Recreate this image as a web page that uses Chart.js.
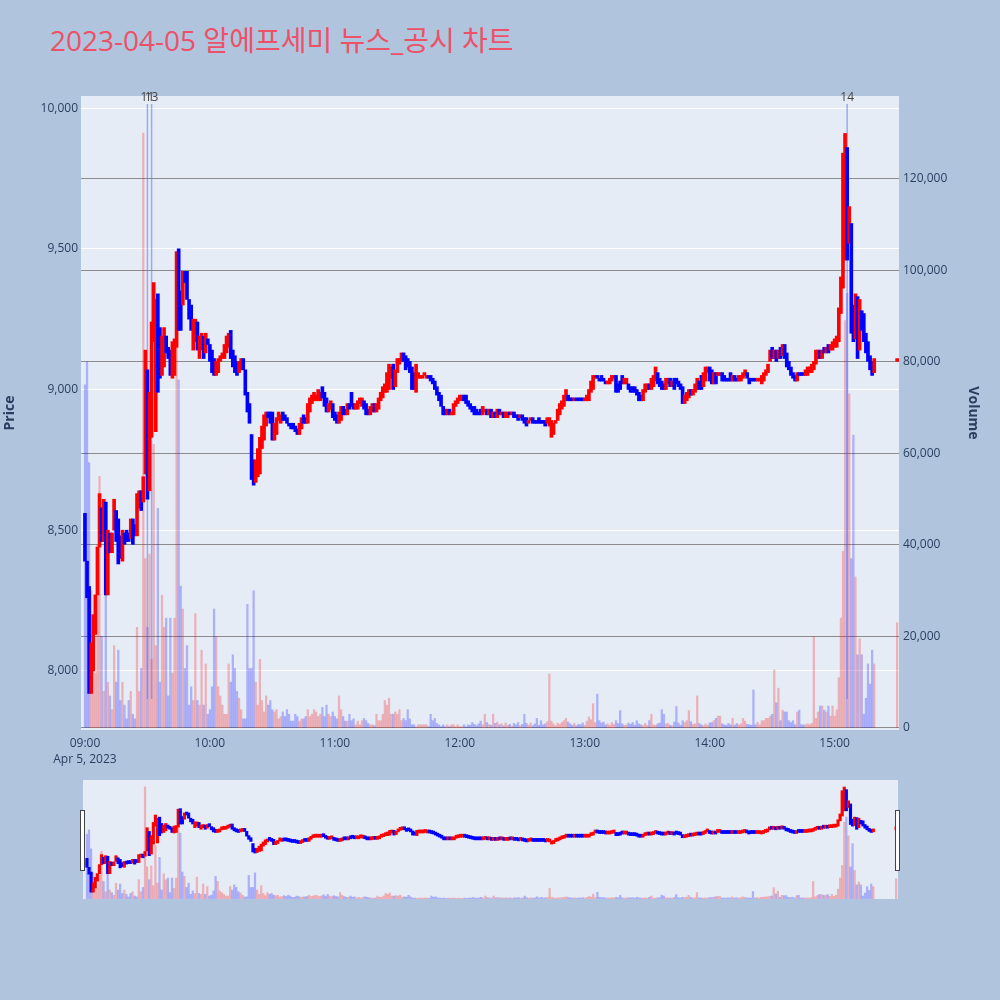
<!DOCTYPE html>
<html>
<head>
<meta charset="utf-8">
<script src="https://cdn.jsdelivr.net/npm/chart.js@4.4.0/dist/chart.umd.min.js"></script>
<style>
  body { margin: 0; background: #B0C4DE; }
  #wrap { position: relative; width: 1000px; height: 1000px; }
  #title { position: absolute; left: 50px; top: 26px; font: 28px/28px "Open Sans", "Noto Sans CJK KR", sans-serif; color: #EC5168; white-space: nowrap; }
  #main { position: absolute; left: 0; top: 0; }
  #slider { position: absolute; left: 0; top: 780px; }
</style>
</head>
<body>
<div id="wrap">
  <div id="title">2023-04-05 알에프세미 뉴스_공시 차트</div>
  <canvas id="main" width="1000" height="775"></canvas>
  <canvas id="slider" width="1000" height="120"></canvas>
</div>
<script>
// 1분봉: 09:00 부터 15:19 까지 (분 단위 순서)
const sessionStart = '09:00';
const dateLabel = 'Apr 5, 2023';
const tickTimes = ['09:00', '10:00', '11:00', '12:00', '13:00', '14:00', '15:00'];
const priceTicks = [8000, 8500, 9000, 9500, 10000];
const volumeTicks = [0, 20000, 40000, 60000, 80000, 100000, 120000];

const opens = [
  8560, 8390, 8300, 7920, 8000, 8130, 8270, 8440, 8580, 8460,
  8600, 8270, 8490, 8420, 8500, 8570, 8540, 8480, 8390, 8490,
  8500, 8490, 8470, 8540, 8520, 8480, 8580, 8640, 8600, 8700,
  9070, 8640, 8830, 9170, 8850, 9340, 9220, 9050, 9080, 9190,
  9150, 9140, 9040, 9050, 9150, 9500, 9350, 9300, 9420, 9420,
  9320, 9300, 9140, 9170, 9240, 9110, 9140, 9190, 9130, 9180,
  9160, 9140, 9110, 9050, 9060, 9100, 9110, 9110, 9130, 9150,
  9210, 9140, 9120, 9100, 9060, 9070, 9110, 9070, 8990, 8950,
  8840, 8750, 8670, 8690, 8700, 8790, 8820, 8870, 8920, 8920,
  8920, 8820, 8840, 8890, 8880, 8920, 8910, 8900, 8880, 8880,
  8880, 8870, 8860, 8840, 8860, 8910, 8900, 8880, 8920, 8950,
  8960, 8960, 8960, 8960, 9010, 8990, 8970, 8920, 8930, 8950,
  8920, 8910, 8880, 8890, 8940, 8930, 8910, 8950, 8990, 8950,
  8930, 8930, 8950, 8940, 8960, 8950, 8930, 8910, 8920, 8950,
  8920, 8930, 8960, 8970, 8990, 8990, 9000, 9040, 9090, 9010,
  9060, 9090, 9100, 9130, 9120, 9110, 9100, 9080, 9060, 8990,
  9040, 9040, 9040, 9050, 9040, 9050, 9050, 9040, 9030, 9010,
  8990, 8980, 8940, 8930, 8910, 8930, 8910, 8910, 8940, 8950,
  8960, 8960, 8980, 8980, 8960, 8950, 8940, 8940, 8930, 8920,
  8930, 8910, 8920, 8930, 8910, 8930, 8900, 8920, 8900, 8930,
  8910, 8920, 8900, 8900, 8920, 8910, 8920, 8910, 8910, 8900,
  8910, 8900, 8900, 8880, 8890, 8900, 8890, 8890, 8900, 8890,
  8890, 8890, 8880, 8870, 8830, 8840, 8880, 8890, 8910, 8930,
  8940, 8960, 8980, 8970, 8970, 8960, 8970, 8970, 8970, 8970,
  8960, 8960, 8960, 8990, 9000, 9040, 9050, 9040, 9050, 9040,
  9030, 9020, 9020, 9030, 9040, 9050, 9020, 9030, 9050, 9020,
  9020, 9020, 9010, 9010, 9010, 9000, 8990, 8980, 8960, 8990,
  9000, 9020, 9000, 9010, 9030, 9060, 9040, 9030, 9020, 9000,
  9020, 9040, 9010, 9040, 9040, 9030, 9020, 9010, 8950, 8960,
  8970, 9000, 8980, 8990, 9000, 9030, 9050, 9010, 9030, 9060,
  9080, 9070, 9020, 9060, 9050, 9050, 9060, 9050, 9040, 9040,
  9060, 9030, 9050, 9040, 9030, 9030, 9040, 9050, 9060, 9040,
  9040, 9040, 9040, 9030, 9030, 9020, 9030, 9050, 9060, 9100,
  9150, 9110, 9140, 9110, 9150, 9120, 9160, 9130, 9100, 9080,
  9060, 9050, 9030, 9060, 9060, 9060, 9050, 9050, 9060, 9060,
  9070, 9090, 9110, 9140, 9110, 9150, 9130, 9160, 9140, 9140,
  9150, 9150, 9170, 9270, 9360, 9460, 9860, 9520, 9590, 9300,
  9180, 9330, 9140, 9280, 9270, 9200, 9170, 9120, 9100, 9060
];

const closes = [
  8390, 8260, 7920, 8100, 8200, 8270, 8440, 8630, 8460, 8610,
  8270, 8500, 8420, 8490, 8610, 8460, 8380, 8400, 8500, 8450,
  8460, 8460, 8540, 8450, 8480, 8630, 8640, 8570, 8690, 9140,
  8610, 8990, 9240, 9380, 9320, 8990, 9040, 9190, 9220, 9130,
  9110, 9050, 9170, 9180, 9490, 9210, 9210, 9420, 9380, 9320,
  9250, 9210, 9250, 9250, 9140, 9190, 9200, 9110, 9200, 9160,
  9100, 9060, 9050, 9100, 9110, 9120, 9130, 9160, 9190, 9200,
  9110, 9080, 9060, 9050, 9100, 9110, 9070, 8980, 8920, 8880,
  8680, 8660, 8750, 8790, 8830, 8870, 8910, 8920, 8900, 8880,
  8820, 8880, 8900, 8920, 8910, 8890, 8890, 8880, 8870, 8860,
  8860, 8850, 8840, 8880, 8900, 8880, 8880, 8950, 8970, 8980,
  8990, 8980, 9000, 8990, 8970, 8940, 8920, 8950, 8960, 8900,
  8890, 8880, 8920, 8940, 8910, 8910, 8950, 8930, 8940, 8930,
  8950, 8960, 8970, 8970, 8930, 8910, 8910, 8940, 8950, 8920,
  8950, 8970, 8990, 9010, 9020, 9060, 9090, 9080, 9000, 9070,
  9110, 9110, 9130, 9100, 9070, 9080, 9060, 9000, 9000, 9090,
  9060, 9050, 9050, 9060, 9050, 9040, 9030, 9020, 9000, 8980,
  8960, 8940, 8910, 8910, 8930, 8910, 8920, 8950, 8960, 8970,
  8980, 8980, 8960, 8950, 8940, 8930, 8920, 8910, 8910, 8910,
  8910, 8940, 8930, 8910, 8930, 8900, 8920, 8900, 8930, 8910,
  8920, 8900, 8920, 8920, 8910, 8920, 8900, 8900, 8890, 8910,
  8890, 8880, 8870, 8890, 8900, 8880, 8880, 8880, 8880, 8880,
  8880, 8870, 8900, 8900, 8890, 8880, 8890, 8930, 8950, 8960,
  8980, 9000, 8960, 8960, 8960, 8970, 8960, 8960, 8960, 8960,
  8970, 8980, 9000, 9030, 9050, 9050, 9040, 9030, 9030, 9030,
  9020, 9030, 9040, 9050, 9050, 8990, 8990, 9000, 9020, 9040,
  9040, 9000, 8990, 8990, 8990, 8980, 8960, 8960, 9000, 9020,
  9020, 9000, 9040, 9050, 9080, 9020, 9010, 9000, 9000, 9040,
  9040, 9010, 9030, 9000, 9020, 9010, 9000, 8950, 8980, 8990,
  9000, 8980, 9000, 9020, 9040, 9000, 9000, 9060, 9080, 9080,
  9030, 9020, 9060, 9020, 9060, 9060, 9030, 9030, 9030, 9030,
  9030, 9050, 9030, 9030, 9050, 9050, 9060, 9070, 9040, 9020,
  9030, 9030, 9030, 9040, 9040, 9050, 9060, 9070, 9090, 9140,
  9110, 9140, 9100, 9140, 9110, 9160, 9110, 9080, 9070, 9050,
  9040, 9030, 9060, 9050, 9050, 9050, 9070, 9080, 9080, 9090,
  9100, 9140, 9140, 9110, 9140, 9130, 9150, 9130, 9160, 9170,
  9180, 9190, 9290, 9400, 9840, 9910, 9460, 9650, 9200, 9170,
  9340, 9110, 9320, 9210, 9170, 9130, 9100, 9070, 9050, 9110
];

const volumes = [
  75000, 80000, 58000, 30000, 20000, 12000, 40000, 55000, 20000, 8000,
  45000, 10000, 7000, 4000, 18000, 10000, 17000, 6000, 10000, 5000,
  2000, 6000, 8000, 3000, 2000, 22000, 8000, 13000, 130000, 37000,
  22000, 38000, 15000, 62000, 18000, 48000, 10000, 29000, 22000, 24000,
  7000, 24000, 12000, 24000, 102000, 76000, 31000, 26000, 13000, 18000,
  5000, 9000, 6000, 25000, 6000, 5000, 17000, 5000, 14000, 3000,
  4000, 9000, 26000, 20000, 9000, 7000, 5000, 3000, 3000, 14000,
  10000, 16000, 13000, 8000, 6500, 4000, 2000, 2000, 27000, 13000,
  13000, 30000, 10000, 5000, 15000, 6000, 3500, 7000, 5000, 6000,
  4000, 3500, 4000, 2000, 2500, 3500, 2500, 4000, 3000, 1500,
  1500, 3000, 2500, 1500, 2000, 2000, 2500, 4000, 2500, 3000,
  4000, 3500, 2500, 3000, 4500, 2500, 5000, 3000, 2500, 3500,
  2500, 2000, 7000, 4000, 2500, 1500, 1500, 3000, 1600, 2000,
  700, 1500, 700, 1600, 2100, 1600, 1000, 700, 700, 500,
  3000, 1600, 1600, 3000, 6000, 5000, 6500, 3000, 3000, 3500,
  3000, 4000, 1600, 2100, 1600, 4000, 2000, 700, 700, 300,
  700, 700, 700, 700, 700, 300, 3000, 1600, 2100, 1000,
  700, 300, 700, 300, 700, 300, 700, 700, 300, 700,
  300, 300, 700, 300, 700, 600, 1200, 800, 500, 900,
  1500, 700, 3000, 1200, 800, 600, 3000, 1000, 1300, 700,
  900, 500, 1100, 600, 800, 400, 1000, 700, 1200, 500,
  800, 3000, 1000, 600, 1100, 500, 900, 2100, 600, 1600,
  700, 900, 1400, 11800, 1500, 900, 500, 1100, 800, 1200,
  1600, 2100, 1300, 900, 600, 1000, 500, 800, 700, 1100,
  600, 1500, 2400, 1800, 5300, 1200, 7400, 1600, 1100, 1300,
  700, 900, 600, 1200, 800, 1600, 1000, 3800, 900, 600,
  700, 1100, 800, 1200, 600, 1600, 900, 700, 500, 1000,
  600, 1600, 3000, 700, 600, 900, 1100, 4000, 3000, 900,
  1000, 600, 500, 1300, 4700, 1100, 600, 1600, 1200, 1600,
  3800, 1400, 800, 900, 7000, 1000, 700, 500, 900, 600,
  1100, 1200, 1600, 2100, 2600, 2600, 900, 700, 600, 1000,
  700, 2100, 600, 1000, 700, 900, 2100, 1500, 800, 700,
  600, 8300, 700, 1200, 700, 1600, 1600, 2100, 2100, 2600,
  3000, 12700, 5500, 8700, 1600, 3900, 3500, 3500, 1600, 1200,
  1600, 700, 3500, 3900, 700, 700, 700, 900, 700, 1000,
  20000, 2100, 3500, 4800, 4800, 3900, 3500, 4800, 2600, 4800,
  2600, 4000, 11000, 24000, 38600, 89000, 95000, 73000, 37000, 64000,
  33000, 16000, 19500, 16000, 3000, 6500, 14000, 9600, 17000, 14000
];

// 15:30 동시호가
const auctionTime = '15:30';
const auctionOpen = 9100;
const auctionClose = 9110;
const auctionVolume = 23000;

// 뉴스/공시 표시
const newsIds = ['11', '13', '14'];
const newsTimes = ['09:30', '09:32', '15:06'];

const UP = '#ff0000';
const DOWN = '#0000ff';
const UP_VOL = 'rgba(255, 0, 0, 0.25)';
const DOWN_VOL = 'rgba(0, 0, 255, 0.25)';

function toMinute(t) {
  const [h, m] = t.split(':').map(Number);
  return (h - 9) * 60 + m;
}
function toClock(v) {
  const h = 9 + Math.floor(v / 60);
  const m = v % 60;
  return String(h).padStart(2, '0') + ':' + String(m).padStart(2, '0');
}

const startMin = toMinute(sessionStart);
const bars = opens.map((o, i) => ({ x: startMin + i, o: o, c: closes[i], v: volumes[i] }));
bars.push({ x: toMinute(auctionTime), o: auctionOpen, c: auctionClose, v: auctionVolume });
const isUp = b => b.c >= b.o;

const X_MIN = -1.9, X_MAX = 390.9;
const P_MIN = 7790, P_MAX = 10043;
const V_MIN = -440, V_MAX = 138100;

Chart.defaults.font.family = '"Open Sans", sans-serif';
Chart.defaults.font.size = 12;
Chart.defaults.color = '#2a3f5f';

function candleSet(thick, minLen) {
  return {
    type: 'bar',
    label: 'Price',
    yAxisID: 'y',
    order: 1,
    grouped: false,
    barThickness: thick,
    minBarLength: minLen,
    borderWidth: 0,
    data: bars.map(b => ({ x: b.x, y: [b.o, b.c] })),
    backgroundColor: bars.map(b => isUp(b) ? UP : DOWN)
  };
}

function volumeSet(thick) {
  return {
    type: 'bar',
    label: 'Volume',
    yAxisID: 'y2',
    order: 3,
    grouped: false,
    barThickness: thick,
    borderWidth: 0,
    data: bars.map(b => ({ x: b.x, y: b.v })),
    backgroundColor: bars.map(b => isUp(b) ? UP_VOL : DOWN_VOL)
  };
}

const newsLines = newsTimes.map((t, i) => ({
  type: 'line',
  label: 'news ' + newsIds[i],
  yAxisID: 'y',
  order: 2,
  borderColor: 'rgba(90, 115, 245, 0.55)',
  borderWidth: 1.5,
  pointRadius: 0,
  data: [{ x: toMinute(t), y: 7900 }, { x: toMinute(t), y: 10015 }]
}));

const plotBg = {
  id: 'plotBg',
  beforeDraw(chart) {
    const { ctx, chartArea: a } = chart;
    ctx.save();
    ctx.fillStyle = '#E5ECF6';
    ctx.fillRect(a.left, a.top, a.right - a.left, a.bottom - a.top);
    ctx.restore();
  }
};

const newsLabels = {
  id: 'newsLabels',
  afterDraw(chart) {
    const { ctx, chartArea: a, scales } = chart;
    ctx.save();
    ctx.font = '12px "Open Sans", sans-serif';
    ctx.fillStyle = '#444';
    ctx.textAlign = 'center';
    ctx.textBaseline = 'alphabetic';
    newsTimes.forEach((t, i) => {
      ctx.fillText(newsIds[i], scales.x.getPixelForValue(toMinute(t)), a.top + 5);
    });
    ctx.restore();
  }
};

const sliderHandles = {
  id: 'sliderHandles',
  afterDraw(chart) {
    const { ctx, chartArea: a } = chart;
    ctx.save();
    ctx.fillStyle = '#fff';
    ctx.strokeStyle = '#444';
    ctx.lineWidth = 1;
    [a.left, a.right].forEach(x => {
      ctx.fillRect(Math.round(x) - 2, 30, 4, 60);
      ctx.strokeRect(Math.round(x) - 2.5, 30.5, 4, 60);
    });
    ctx.restore();
  }
};

const mainChart = new Chart(document.getElementById('main'), {
  type: 'bar',
  data: { datasets: [candleSet(3, 2), ...newsLines, volumeSet(1.6)] },
  options: {
    responsive: false,
    animation: false,
    layout: { padding: { top: 96, left: 0, right: 0, bottom: 0 } },
    plugins: { legend: { display: false }, tooltip: { enabled: false } },
    scales: {
      x: {
        type: 'linear',
        min: X_MIN,
        max: X_MAX,
        offset: false,
        grid: { display: false },
        border: { display: false },
        afterBuildTicks: s => { s.ticks = tickTimes.map(t => ({ value: toMinute(t) })); },
        ticks: {
          autoSkip: false,
          maxRotation: 0,
          padding: -3,
          font: { size: 12, lineHeight: 1.35 },
          callback: v => v === startMin ? [toClock(v), dateLabel] : toClock(v)
        },
        afterFit: s => { s.height = 45; }
      },
      y: {
        position: 'left',
        min: P_MIN,
        max: P_MAX,
        grid: { color: '#ffffff', lineWidth: 1, drawTicks: false },
        border: { display: false },
        afterBuildTicks: s => { s.ticks = priceTicks.map(v => ({ value: v })); },
        ticks: { padding: 3, callback: v => v.toLocaleString('en-US') },
        title: { display: true, text: 'Price', font: { size: 14, weight: 'bold' }, padding: { top: 2, bottom: 0 } },
        afterFit: s => { s.width = 81; }
      },
      y2: {
        position: 'right',
        min: V_MIN,
        max: V_MAX,
        grid: { color: '#8c8c8c', lineWidth: 1, drawTicks: false },
        border: { display: false },
        afterBuildTicks: s => { s.ticks = volumeTicks.map(v => ({ value: v })); },
        ticks: { padding: 4, callback: v => v.toLocaleString('en-US') },
        title: { display: true, text: 'Volume', font: { size: 14, weight: 'bold' }, padding: { top: 19, bottom: 0 } },
        afterFit: s => { s.width = 101; }
      }
    }
  },
  plugins: [plotBg, newsLabels]
});

const sliderChart = new Chart(document.getElementById('slider'), {
  type: 'bar',
  data: { datasets: [candleSet(2.5, 3), volumeSet(1.6)] },
  options: {
    responsive: false,
    animation: false,
    layout: { padding: { top: 0, left: 83, right: 102, bottom: 1 } },
    plugins: { legend: { display: false }, tooltip: { enabled: false } },
    scales: {
      x: { type: 'linear', min: X_MIN, max: X_MAX, offset: false, display: false },
      y: { min: P_MIN, max: P_MAX, display: false },
      y2: { position: 'right', min: V_MIN, max: V_MAX, display: false }
    }
  },
  plugins: [plotBg, sliderHandles]
});
</script>
</body>
</html>
